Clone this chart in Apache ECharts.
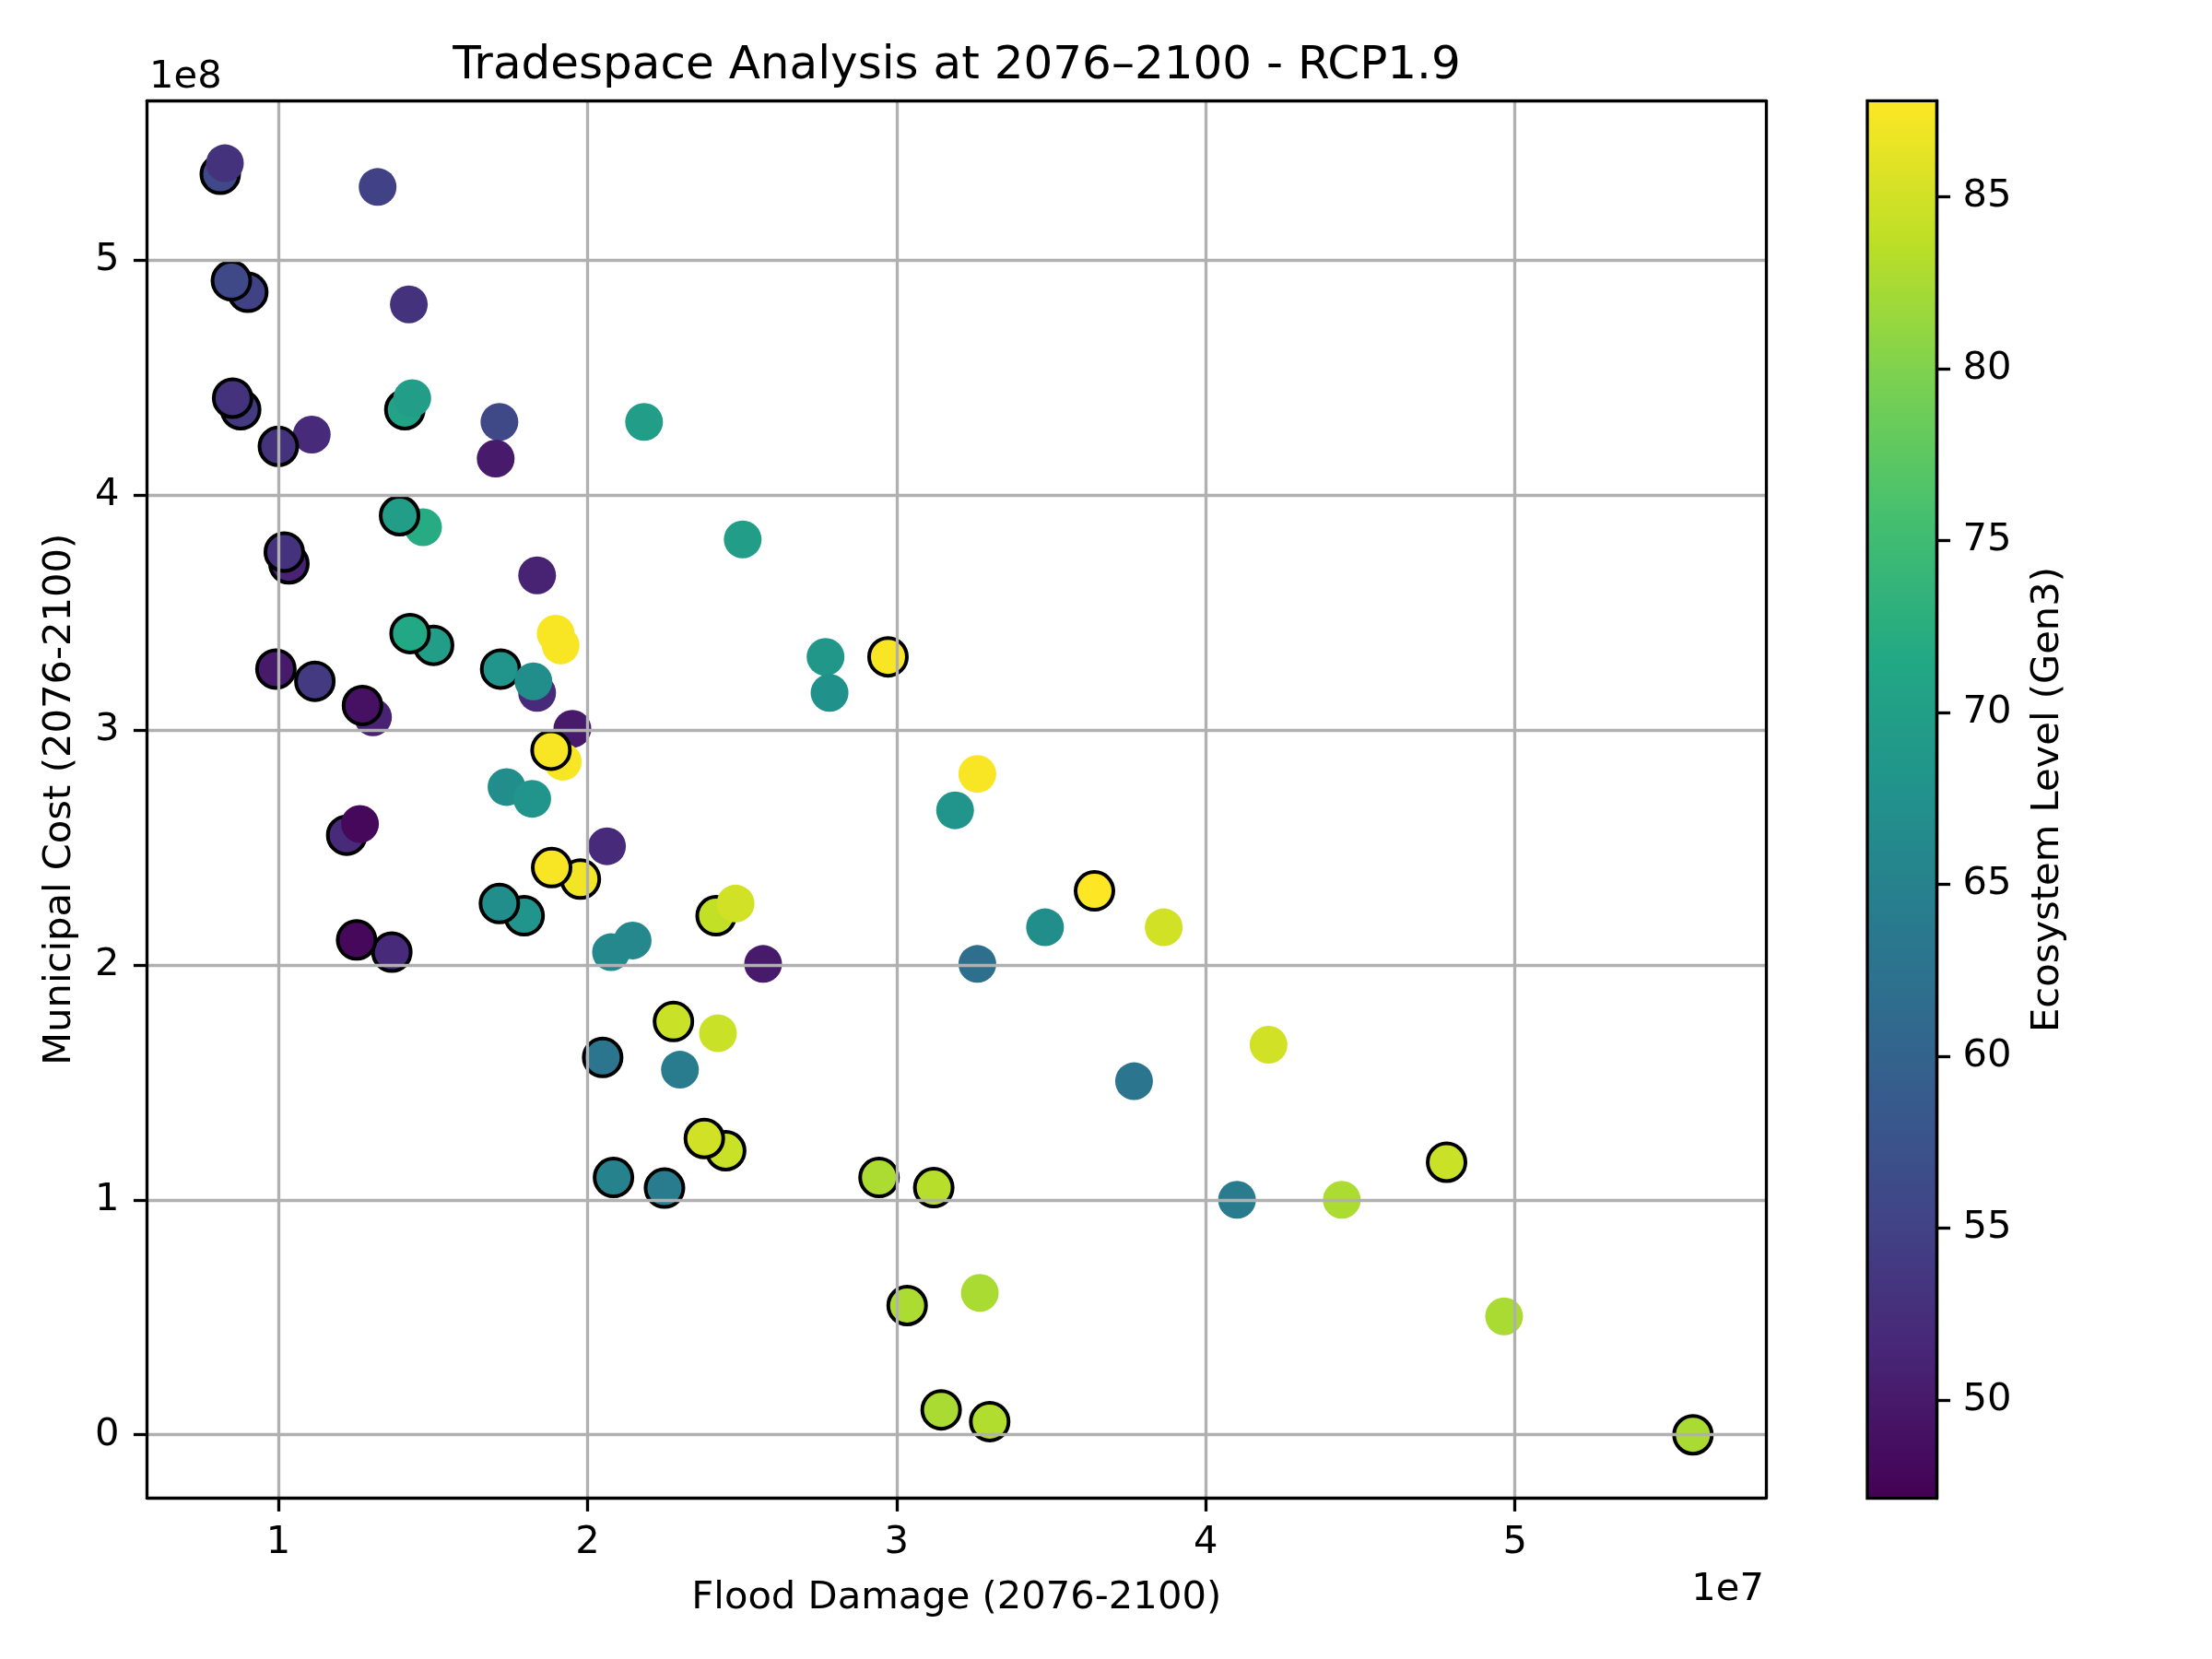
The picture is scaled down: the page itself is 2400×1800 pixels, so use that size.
<!DOCTYPE html>
<html><head><meta charset="utf-8">
<style>html,body{margin:0;padding:0;background:#fff}#c{width:2400px;height:1800px}</style>
<script src="https://cdn.jsdelivr.net/npm/echarts@6/dist/echarts.min.js"></script>
</head><body><div id="c"></div>
<script>
// Flood damage in units of 1e7, municipal cost in units of 1e8, ecosystem level, edged flag (1 = black outline). Draw order = array order.
const floodDamage = [0.812,0.827,1.321,0.901,0.848,1.422,0.878,0.852,1.108,1.000,1.409,1.433,1.715,2.183,1.703,1.468,1.392,2.502,1.837,1.034,1.019,1.913,1.897,1.502,1.426,2.770,2.972,2.783,0.992,1.118,1.719,1.837,1.825,1.306,1.272,1.951,1.920,1.882,1.738,1.821,2.063,1.221,1.264,1.977,1.884,1.795,1.715,2.416,2.479,2.146,2.076,1.367,1.253,2.568,2.278,2.422,2.049,2.299,2.447,2.378,2.084,2.249,2.943,3.120,3.034,3.261,3.189,3.640,3.480,3.864,3.261,4.203,3.768,4.779,4.101,4.440,3.269,4.965,3.144,3.301,5.576];
const municipalCost = [5.365,5.412,5.311,4.863,4.912,4.811,4.363,4.412,4.257,4.207,4.363,4.412,4.311,4.311,4.155,3.863,3.912,3.811,3.658,3.707,3.757,3.360,3.410,3.360,3.410,3.311,3.311,3.158,3.259,3.207,3.259,3.158,3.207,3.054,3.104,3.005,2.865,2.914,2.757,2.707,2.505,2.552,2.600,2.365,2.414,2.209,2.261,2.209,2.261,2.104,2.054,2.054,2.106,2.004,1.759,1.709,1.606,1.554,1.209,1.261,1.095,1.050,1.095,1.052,0.550,2.813,2.658,2.315,2.160,2.160,2.004,1.660,1.505,1.160,1.000,1.000,0.604,0.504,0.106,0.056,0.000];
const ecosystemLevel = [56,53,55,55,56,53,54,53,52,53,70.5,69.5,56,69.5,50,72,69.5,69.5,51,51,53,87.5,87.5,69.5,71.5,68.5,87.5,67.5,50,54,68,52,67,51,49,50,87.5,87.5,67,68,52,52,48,87,87.5,68,67,84,85,66,66,52,48,50,84.5,84.5,63,64,84.5,85,65,64,82.7,83.3,82.7,87.5,68,87.8,67,85,62,85,63,84.5,64,82.7,82.5,82.5,82.5,83,82.5];
const edged = [1,0,0,1,1,0,1,1,0,1,1,0,0,0,0,0,1,0,0,1,1,0,0,1,1,0,1,0,1,1,1,0,0,0,1,0,0,1,0,0,0,1,0,1,1,1,1,1,0,0,0,1,1,0,1,0,1,0,1,1,1,1,1,1,1,0,0,1,0,0,0,0,0,1,0,0,0,0,1,1,1];
const xTicks = [1,2,3,4,5];
const yTicks = [0,1,2,3,4,5];
const colorbarTicks = [50,55,60,65,70,75,80,85];
const xRange = [0.575,5.812];
const yRange = [-0.269,5.678];
const colorRange = [47.14,87.79];
const viridis = ['#440154','#482475','#414487','#355f8d','#2a788e','#21918c','#22a884','#44bf70','#7ad151','#bddf26','#fde725'];

const FONT = 'DejaVu Sans';
const LW = 3.33;
const TICK = 14.6;
const FS = 41.67;
const pts = floodDamage.map((x,i)=>({
  value:[x,municipalCost[i],ecosystemLevel[i]],
  itemStyle: edged[i] ? {borderColor:'#000',borderWidth:4,opacity:1} : {borderWidth:0,opacity:1}
}));
const labelBase = {color:'#000',fontFamily:FONT,fontSize:FS};
const plainExtra = (pos,range)=>({type:'value',gridIndex:0,position:pos,min:range[0],max:range[1],
  axisLine:{show:true,onZero:false,lineStyle:{color:'#000',width:LW}},axisTick:{show:false},axisLabel:{show:false},splitLine:{show:false},z:5});
const chart = echarts.init(document.getElementById('c'),null,{renderer:'canvas',width:2400,height:1800});
chart.setOption({
  animation:false,
  backgroundColor:'#fff',
  title:{text:'Tradespace Analysis at 2076\u20132100 - RCP1.9',left:1033,top:42,textAlign:'center',
    textStyle:{color:'#000',fontFamily:FONT,fontSize:50,fontWeight:'normal'}},
  graphic:[
    {type:'text',left:162,top:63,style:{text:'1e8',fill:'#000',font:FS+'px "'+FONT+'"'}},
    {type:'text',right:486,top:1704,style:{text:'1e7',fill:'#000',font:FS+'px "'+FONT+'"'}}
  ],
  grid:[
    {left:159.5,top:109.3,width:1756.5,height:1516,containLabel:false},
    {left:2026,top:109.3,width:75.5,height:1516.4,show:true,borderColor:'#000',borderWidth:LW,backgroundColor:'transparent',z:10}
  ],
  xAxis:[
    {type:'value',gridIndex:0,min:xRange[0],max:xRange[1],position:'bottom',
     name:'Flood Damage (2076-2100)',nameLocation:'middle',nameGap:88,nameTextStyle:labelBase,
     axisLine:{show:true,onZero:false,lineStyle:{color:'#000',width:LW}},
     axisTick:{show:true,length:TICK,lineStyle:{color:'#000',width:LW},customValues:xTicks},
     axisLabel:Object.assign({margin:28,customValues:xTicks,formatter:v=>String(v)},labelBase),
     splitLine:{show:true,lineStyle:{color:'#b0b0b0',width:LW}},z:5},
    plainExtra('top',xRange),
    {type:'value',gridIndex:1,min:0,max:1,show:false}
  ],
  yAxis:[
    {type:'value',gridIndex:0,min:yRange[0],max:yRange[1],position:'left',
     name:'Municipal Cost (2076-2100)',nameLocation:'middle',nameGap:73,nameTextStyle:labelBase,
     axisLine:{show:true,onZero:false,lineStyle:{color:'#000',width:LW}},
     axisTick:{show:true,length:TICK,lineStyle:{color:'#000',width:LW},customValues:yTicks},
     axisLabel:Object.assign({margin:30,customValues:yTicks,formatter:v=>String(v)},labelBase),
     splitLine:{show:true,lineStyle:{color:'#b0b0b0',width:LW}},z:5},
    plainExtra('right',yRange),
    {type:'value',gridIndex:1,min:colorRange[0],max:colorRange[1],position:'right',
     name:'Ecosystem Level (Gen3)',nameLocation:'middle',nameGap:100,nameRotate:90,nameTextStyle:labelBase,
     axisLine:{show:true,onZero:false,lineStyle:{color:'#000',width:LW}},
     axisTick:{show:true,length:TICK,lineStyle:{color:'#000',width:LW},customValues:colorbarTicks},
     axisLabel:Object.assign({margin:28,customValues:colorbarTicks,formatter:v=>String(v)},labelBase),
     splitLine:{show:false},z:10}
  ],
  visualMap:{type:'continuous',min:colorRange[0],max:colorRange[1],dimension:2,seriesIndex:0,
    left:2026,top:109.3,itemWidth:75.5,itemHeight:1516.4,padding:0,text:null,calculable:false,hoverLink:false,
    showLabel:false,inRange:{color:viridis,opacity:1},z:1},
  series:[{type:'scatter',xAxisIndex:0,yAxisIndex:0,symbol:'circle',symbolSize:41,data:pts,z:3,clip:false,
    large:false,progressive:0,emphasis:{disabled:true}}]
});
</script></body></html>
